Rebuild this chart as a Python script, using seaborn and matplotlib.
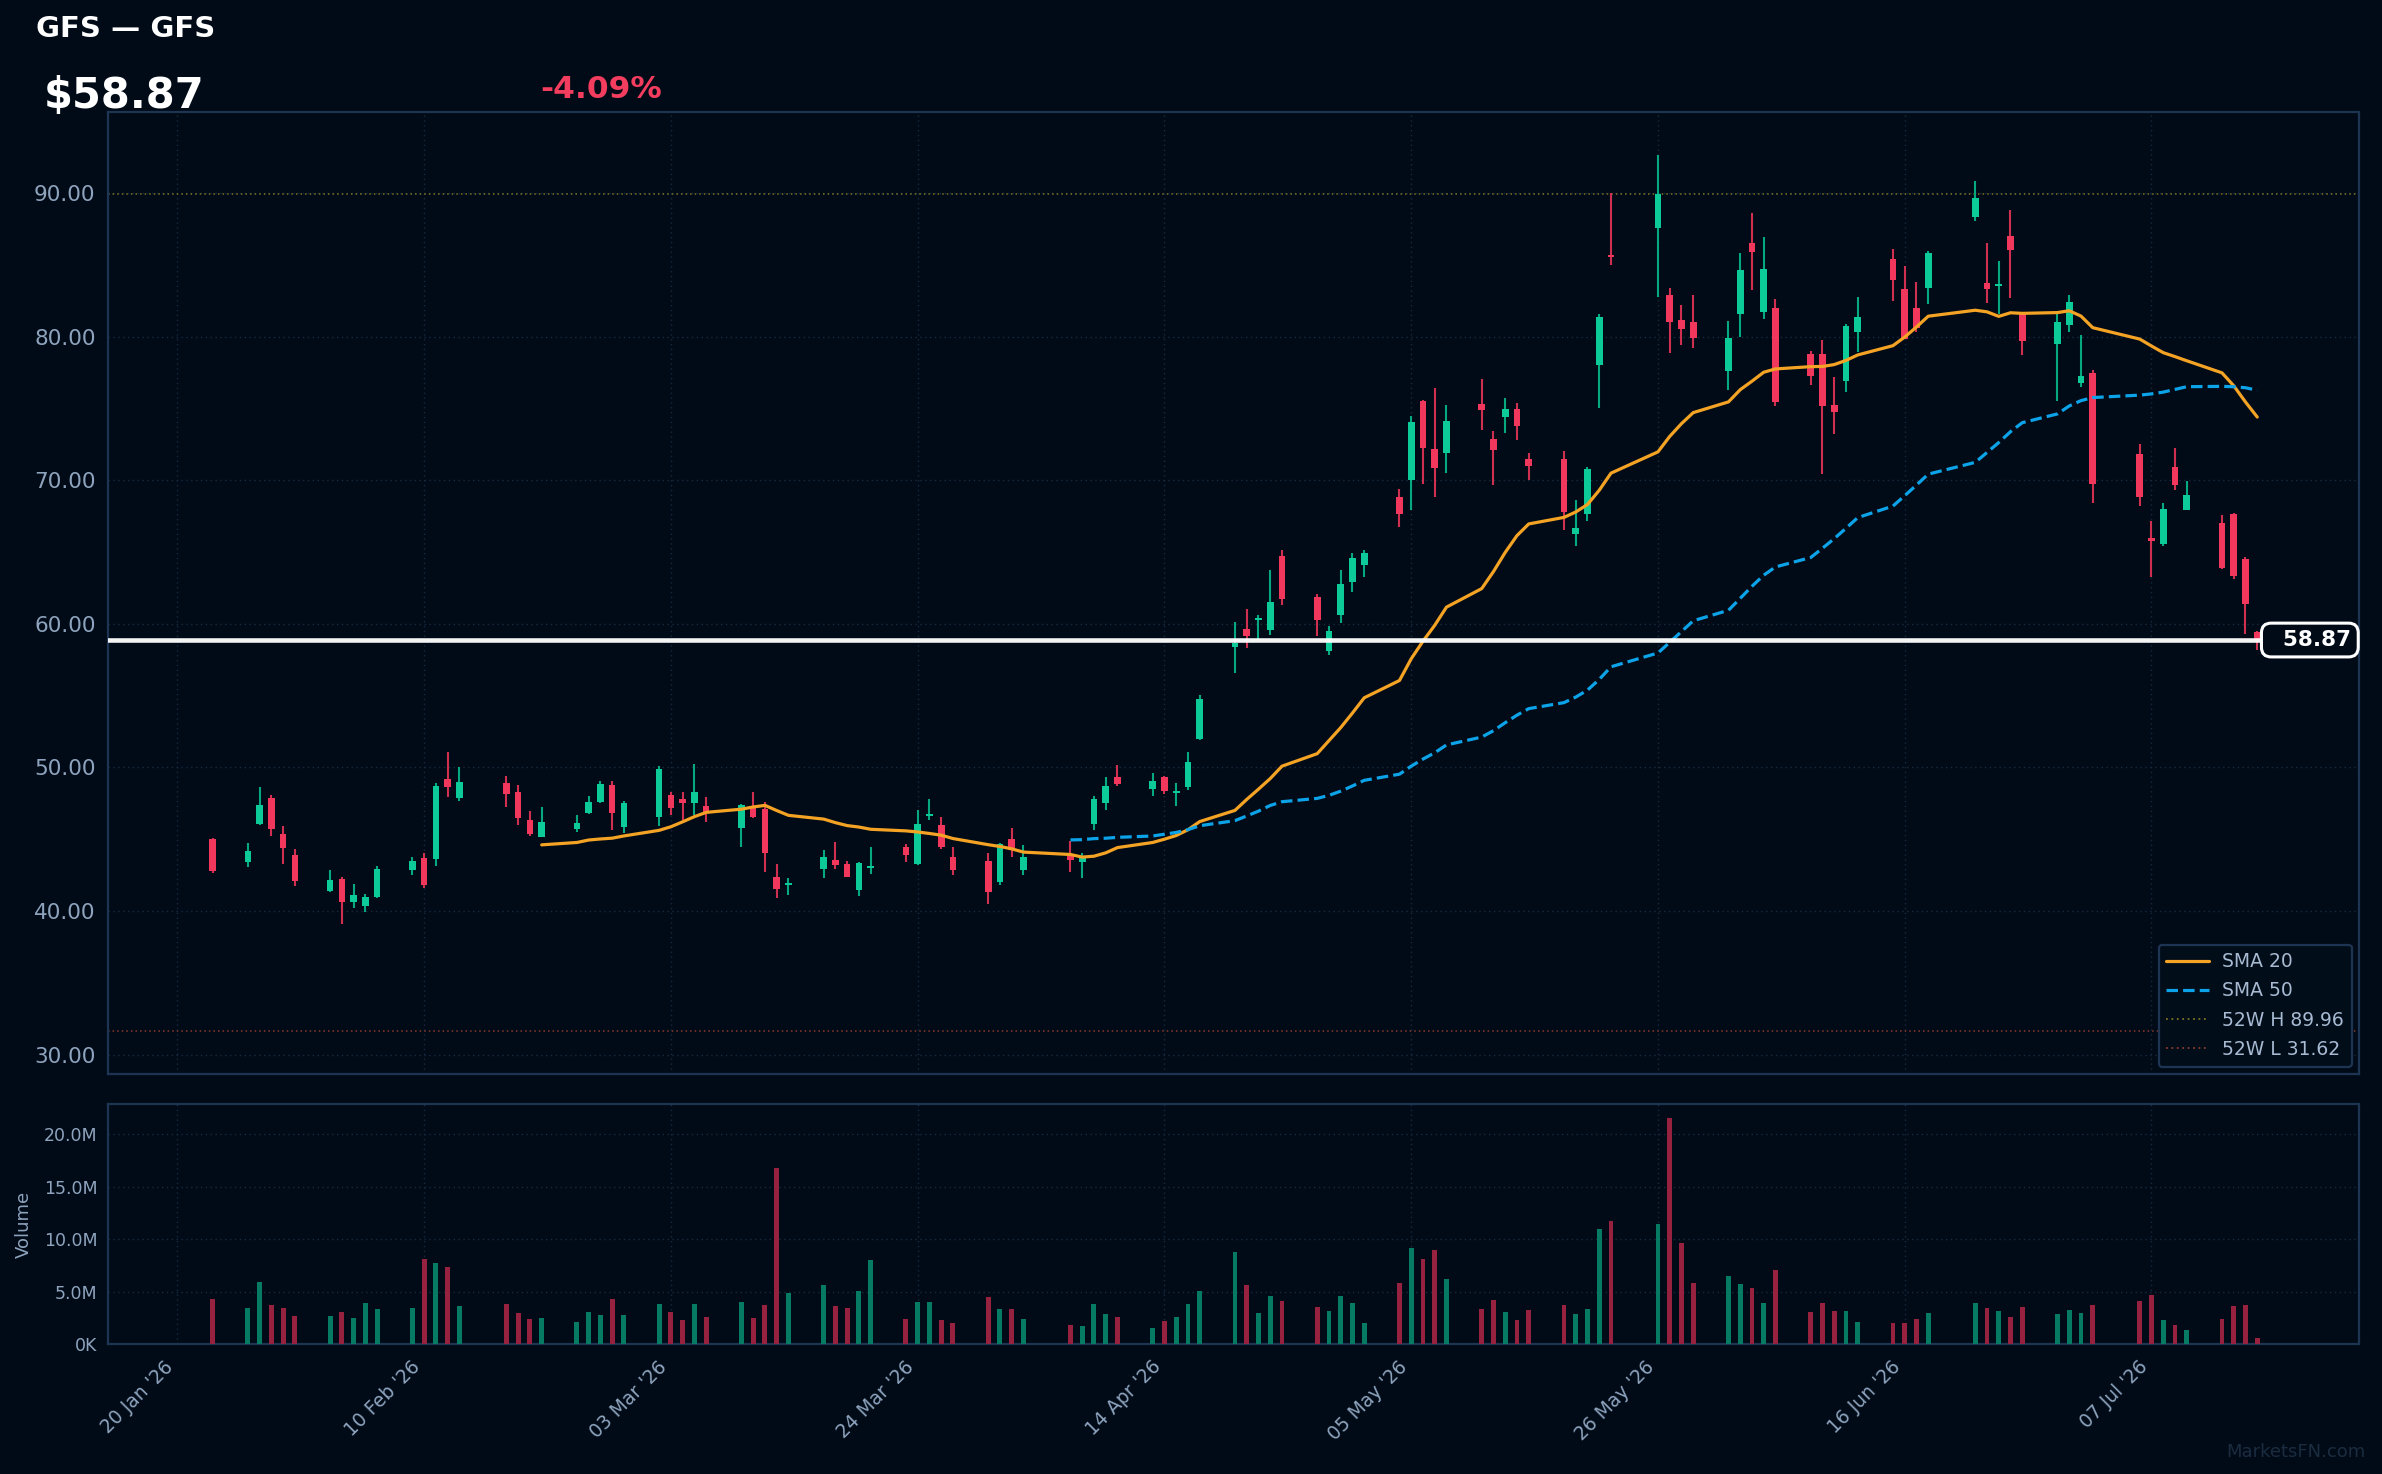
import numpy as np
import pandas as pd
import matplotlib
matplotlib.use("Agg")
import matplotlib.pyplot as plt
import matplotlib.dates as mdates
import matplotlib.transforms as mtrans
from matplotlib.lines import Line2D
from matplotlib.ticker import FuncFormatter, FixedLocator
import seaborn as sns

# ---------------- data ----------------
dates = ["2026-01-23", "2026-01-26", "2026-01-27", "2026-01-28", "2026-01-29", "2026-01-30",
         "2026-02-02", "2026-02-03", "2026-02-04", "2026-02-05", "2026-02-06",
         "2026-02-09", "2026-02-10", "2026-02-11", "2026-02-12", "2026-02-13",
         "2026-02-17", "2026-02-18", "2026-02-19", "2026-02-20",
         "2026-02-23", "2026-02-24", "2026-02-25", "2026-02-26", "2026-02-27",
         "2026-03-02", "2026-03-03", "2026-03-04", "2026-03-05", "2026-03-06",
         "2026-03-09", "2026-03-10", "2026-03-11", "2026-03-12", "2026-03-13",
         "2026-03-16", "2026-03-17", "2026-03-18", "2026-03-19", "2026-03-20",
         "2026-03-23", "2026-03-24", "2026-03-25", "2026-03-26", "2026-03-27",
         "2026-03-30", "2026-03-31", "2026-04-01", "2026-04-02",
         "2026-04-06", "2026-04-07", "2026-04-08", "2026-04-09", "2026-04-10",
         "2026-04-13", "2026-04-14", "2026-04-15", "2026-04-16", "2026-04-17",
         "2026-04-20", "2026-04-21", "2026-04-22", "2026-04-23", "2026-04-24",
         "2026-04-27", "2026-04-28", "2026-04-29", "2026-04-30", "2026-05-01",
         "2026-05-04", "2026-05-05", "2026-05-06", "2026-05-07", "2026-05-08",
         "2026-05-11", "2026-05-12", "2026-05-13", "2026-05-14", "2026-05-15",
         "2026-05-18", "2026-05-19", "2026-05-20", "2026-05-21", "2026-05-22",
         "2026-05-26", "2026-05-27", "2026-05-28", "2026-05-29",
         "2026-06-01", "2026-06-02", "2026-06-03", "2026-06-04", "2026-06-05",
         "2026-06-08", "2026-06-09", "2026-06-10", "2026-06-11", "2026-06-12",
         "2026-06-15", "2026-06-16", "2026-06-17", "2026-06-18",
         "2026-06-22", "2026-06-23", "2026-06-24", "2026-06-25", "2026-06-26",
         "2026-06-29", "2026-06-30", "2026-07-01", "2026-07-02",
         "2026-07-06", "2026-07-07", "2026-07-08", "2026-07-09", "2026-07-10",
         "2026-07-13", "2026-07-14", "2026-07-15", "2026-07-16"]

opens = [45.01, 43.43, 46.06, 47.87, 45.36, 43.90,
         41.39, 42.23, 40.63, 40.35, 40.97,
         42.85, 43.69, 43.62, 49.19, 47.87,
         48.91, 48.29, 46.34, 45.15,
         45.71, 46.82, 47.59, 48.77, 45.85,
         46.55, 48.08, 47.80, 47.52, 47.31,
         45.78, 47.17, 47.10, 42.37, 41.80,
         42.92, 43.55, 43.27, 41.46, 43.00,
         44.46, 43.27, 46.65, 45.99, 43.76,
         43.48, 42.02, 45.01, 42.85,
         43.90, 43.41, 46.06, 47.52, 49.33,
         48.49, 49.33, 48.22, 48.63, 51.97,
         58.38, 59.64, 60.25, 59.57, 64.72,
         61.87, 58.11, 60.61, 62.91, 64.10,
         68.83, 70.01, 75.52, 72.17, 71.89,
         75.31, 72.87, 74.40, 74.96, 71.48,
         71.48, 66.25, 67.65, 78.03, 85.70,
         87.57, 82.90, 81.16, 81.02,
         77.61, 81.58, 86.52, 81.72, 81.99,
         78.79, 78.79, 75.24, 76.91, 80.32,
         85.41, 83.32, 81.99, 83.39,
         88.33, 83.74, 83.55, 87.01, 81.65,
         79.49, 80.81, 76.77, 77.47,
         71.83, 65.95, 65.56, 70.92, 67.93,
         67.02, 67.65, 64.51, 59.45]

highs = [45.08, 44.73, 48.63, 48.08, 45.92, 44.32,
         42.85, 42.37, 41.88, 41.18, 43.13,
         43.76, 44.04, 48.91, 51.07, 50.03,
         49.40, 48.77, 46.96, 47.24,
         46.68, 48.01, 49.05, 49.05, 47.66,
         50.10, 48.29, 48.29, 50.24, 47.94,
         47.45, 48.29, 47.59, 43.27, 42.30,
         44.25, 44.80, 43.48, 43.41, 44.46,
         44.66, 47.03, 47.80, 46.54, 44.45,
         44.04, 44.73, 45.78, 44.59,
         44.87, 44.04, 48.01, 49.33, 50.16,
         49.61, 49.40, 48.91, 51.07, 55.04,
         60.12, 61.03, 60.61, 63.74, 65.14,
         62.08, 59.85, 63.75, 64.93, 65.14,
         69.39, 74.47, 75.59, 76.42, 75.24,
         77.05, 73.43, 75.72, 75.38, 71.89,
         72.03, 68.62, 70.92, 81.60, 90.00,
         92.65, 83.39, 82.20, 82.90,
         81.09, 85.82, 88.61, 86.94, 82.62,
         79.00, 79.77, 77.19, 80.88, 82.76,
         86.10, 84.92, 83.81, 85.96,
         90.84, 86.52, 85.27, 88.82, 81.65,
         81.65, 82.90, 80.11, 77.68,
         72.52, 67.16, 68.41, 72.24, 69.95,
         67.58, 67.72, 64.65, 59.50]

lows = [42.67, 43.09, 45.99, 45.22, 43.27, 41.74,
        41.32, 39.09, 40.21, 39.93, 40.90,
        42.51, 41.60, 43.13, 47.94, 47.66,
        47.24, 45.99, 45.22, 45.15,
        45.50, 46.75, 47.52, 45.64, 45.43,
        45.92, 46.68, 46.34, 46.68, 46.20,
        44.46, 46.48, 42.72, 40.90, 41.11,
        42.30, 42.92, 42.37, 41.04, 42.58,
        43.41, 43.20, 46.34, 44.31, 42.50,
        40.48, 41.81, 43.76, 42.50,
        42.71, 42.30, 45.64, 47.03, 48.70,
        48.01, 48.14, 47.31, 48.42, 51.91,
        56.57, 58.31, 58.87, 59.22, 61.31,
        59.15, 57.83, 60.06, 62.21, 63.26,
        66.74, 67.93, 69.74, 68.83, 70.50,
        73.50, 69.67, 73.29, 72.80, 70.01,
        66.53, 65.42, 67.16, 75.03, 84.99,
        82.78, 78.86, 79.42, 79.21,
        76.28, 79.97, 83.25, 81.23, 75.17,
        76.63, 70.43, 73.22, 76.14, 78.93,
        82.48, 79.84, 80.32, 82.27,
        88.05, 82.34, 81.58, 82.69, 78.72,
        75.52, 80.32, 76.49, 68.41,
        68.21, 63.26, 65.42, 69.32, 67.93,
        63.82, 63.12, 59.29, 58.20]

closes = [42.81, 44.18, 47.38, 45.71, 44.39, 42.09,
          42.16, 40.63, 41.11, 40.97, 42.92,
          43.48, 41.81, 48.70, 48.63, 48.98,
          48.15, 46.48, 45.36, 46.20,
          46.13, 47.59, 48.84, 46.82, 47.52,
          49.89, 47.17, 47.52, 48.29, 46.89,
          47.38, 46.55, 44.04, 41.53, 41.90,
          43.76, 43.20, 42.37, 43.34, 43.10,
          43.90, 46.06, 46.75, 44.45, 42.85,
          41.32, 44.66, 44.24, 43.76,
          43.55, 43.76, 47.80, 48.70, 48.84,
          49.05, 48.35, 48.30, 50.37, 54.76,
          58.66, 59.15, 60.35, 61.52, 61.73,
          60.27, 59.50, 62.77, 64.58, 64.93,
          67.65, 74.05, 72.24, 70.85, 74.12,
          74.89, 72.10, 74.96, 73.77, 70.99,
          67.79, 66.67, 70.78, 81.34, 85.55,
          89.96, 81.02, 80.53, 79.91,
          79.91, 84.64, 85.89, 84.71, 75.45,
          77.26, 75.17, 74.75, 80.74, 81.37,
          83.94, 79.84, 80.60, 85.82,
          89.65, 83.32, 83.65, 86.03, 79.70,
          81.02, 82.41, 77.26, 69.74,
          68.83, 65.80, 68.00, 69.67, 68.97,
          63.89, 63.33, 61.38, 58.87]

volumes_m = [4.31, 3.46, 5.91, 3.74, 3.46, 2.70,
             2.70, 3.08, 2.52, 3.93, 3.36,
             3.46, 8.08, 7.70, 7.33, 3.65,
             3.84, 2.99, 2.42, 2.52,
             2.14, 3.08, 2.80, 4.31, 2.80,
             3.84, 3.08, 2.33, 3.84, 2.61,
             4.03, 2.52, 3.74, 16.76, 4.87,
             5.63, 3.65, 3.46, 5.06, 7.99,
             2.42, 4.03, 4.03, 2.33, 2.04,
             4.50, 3.36, 3.36, 2.42,
             1.86, 1.67, 3.84, 2.89, 2.61,
             1.57, 2.23, 2.61, 3.84, 5.06,
             8.74, 5.63, 2.99, 4.59, 4.12,
             3.55, 3.18, 4.59, 3.93, 2.04,
             5.82, 9.12, 8.08, 8.93, 6.19,
             3.36, 4.21, 3.08, 2.33, 3.27,
             3.74, 2.89, 3.36, 11.01, 11.76,
             11.48, 21.57, 9.59, 5.82,
             6.48, 5.72, 5.35, 3.93, 7.04,
             3.08, 3.93, 3.18, 3.18, 2.14,
             2.04, 2.04, 2.42, 2.99,
             3.93, 3.46, 3.18, 2.61, 3.55,
             2.89, 3.27, 2.99, 3.74,
             4.12, 4.69, 2.33, 1.86, 1.38,
             2.42, 3.65, 3.74, 0.53]

ticker_title = "GFS — GFS"
last_price = 58.87
change_pct = -4.09
high_52w = 89.96
low_52w = 31.62
price_ticks = [30, 40, 50, 60, 70, 80, 90]
volume_ticks_m = [0, 5, 10, 15, 20]
x_tick_dates = ["2026-01-20", "2026-02-10", "2026-03-03", "2026-03-24", "2026-04-14",
                "2026-05-05", "2026-05-26", "2026-06-16", "2026-07-07"]

# ---------------- style ----------------
BG = "#010b17"
SPINE = "#1d3552"
GRID = "#172a3f"
TXT = "#8ea4be"
UP = "#0ccb98"
DOWN = "#f2375d"
UP_W = "#06a880"
DOWN_W = "#d0304f"
UP_V = "#077a63"
DOWN_V = "#97223f"
ORANGE = "#f4a324"
BLUE = "#0ca3e9"

sns.set_theme(style="dark", rc={"axes.facecolor": BG, "figure.facecolor": BG,
                                "axes.edgecolor": SPINE, "text.color": "white",
                                "xtick.color": TXT, "ytick.color": TXT,
                                "axes.labelcolor": TXT})
plt.rcParams["font.family"] = ["DejaVu Sans"]

df = pd.DataFrame({"date": pd.to_datetime(dates), "open": opens, "high": highs,
                   "low": lows, "close": closes, "volume": np.array(volumes_m) * 1e6})
df["sma20"] = df["close"].rolling(20).mean()
df["sma50"] = df["close"].rolling(50).mean()
df["up"] = df["close"] >= df["open"]
xnum = mdates.date2num(df["date"])

W, H = 2382, 1474
fig = plt.figure(figsize=(W / 100, H / 100), dpi=100)
ax = fig.add_axes([108 / W, 1 - 1074 / H, (2359 - 108) / W, (1074 - 112) / H])
axv = fig.add_axes([108 / W, 1 - 1344 / H, (2359 - 108) / W, (1344 - 1104) / H], sharex=ax)

for a in (ax, axv):
    a.set_facecolor(BG)
    for s in a.spines.values():
        s.set_color(SPINE)
        s.set_linewidth(1.6)
    a.grid(True, linestyle=(0, (1, 2.5)), color=GRID, linewidth=1.0)
    a.set_axisbelow(True)

# candles
wick_cols = [UP_W if u else DOWN_W for u in df["up"]]
body_cols = [UP if u else DOWN for u in df["up"]]
ax.vlines(xnum, df["low"], df["high"], colors=wick_cols, linewidth=1.5, zorder=2)
body_bottom = np.minimum(df["open"], df["close"])
body_h = np.maximum(np.abs(df["close"] - df["open"]), 0.12)
ax.bar(xnum, body_h, bottom=body_bottom, width=0.56, color=body_cols,
       linewidth=0, zorder=3)

# moving averages (seaborn)
sns.lineplot(data=df, x="date", y="sma20", ax=ax, color=ORANGE, linewidth=2.3,
             zorder=4, label="SMA 20")
sns.lineplot(data=df, x="date", y="sma50", ax=ax, color=BLUE, linewidth=2.3,
             zorder=4, label="SMA 50")
ax.lines[-1].set_dashes([3.6, 1.6])

# 52w lines
ax.axhline(high_52w, color="#7c7322", linestyle=(0, (1, 2)), linewidth=1.1, zorder=1)
ax.axhline(low_52w, color="#8a3a2c", linestyle=(0, (1, 2)), linewidth=1.1, zorder=1)

# last price line and tag
ax.axhline(last_price, color="white", linewidth=3.3, alpha=0.96, zorder=5)
trans = mtrans.blended_transform_factory(ax.transAxes, ax.transData)
ax.text(0.9966, last_price, "  " + f"{last_price:.2f}", transform=trans, ha="right",
        va="center", fontsize=15.5, fontweight="bold", color="white", zorder=7,
        bbox=dict(boxstyle="round,pad=0.32,rounding_size=0.45", fc=BG, ec="white",
                  lw=2.2), clip_on=False)

# legend
handles = [Line2D([], [], color=ORANGE, lw=2.3),
           Line2D([], [], color=BLUE, lw=2.3, dashes=[3.6, 1.6]),
           Line2D([], [], color="#7c7322", lw=1.3, linestyle=(0, (1, 2))),
           Line2D([], [], color="#8a3a2c", lw=1.3, linestyle=(0, (1, 2)))]
labels = ["SMA 20", "SMA 50", f"52W H {high_52w:.2f}", f"52W L {low_52w:.2f}"]
leg = ax.legend(handles, labels, loc="lower right", fontsize=13.5, handlelength=2.3,
                handletextpad=0.7, facecolor="#020d1a", edgecolor=SPINE, framealpha=1.0,
                borderaxespad=0.4, labelspacing=0.55, fancybox=True)
for t in leg.get_texts():
    t.set_color("#a7bad2")
leg.get_frame().set_linewidth(1.6)

# axes ranges / ticks
x0 = mdates.date2num(pd.Timestamp("2026-01-20"))
ax.set_xlim(x0 - 5.91, x0 + 185.66)
ax.set_ylim(28.65, 95.64)
ax.yaxis.set_major_locator(FixedLocator(price_ticks))
ax.yaxis.set_major_formatter(FuncFormatter(lambda v, p: f"{v:.2f}"))
ax.tick_params(axis="y", labelsize=15.5, length=4, color=TXT, labelcolor=TXT, pad=5)
ax.tick_params(axis="x", labelbottom=False, length=0)
ax.set_xlabel("")
ax.set_ylabel("")

vol_cols = [UP_V if u else DOWN_V for u in df["up"]]
axv.bar(xnum, df["volume"], width=0.42, color=vol_cols, linewidth=0, zorder=3)
axv.set_ylim(0, 22.9e6)
axv.yaxis.set_major_locator(FixedLocator([v * 1e6 for v in volume_ticks_m]))
axv.yaxis.set_major_formatter(FuncFormatter(lambda v, p: "0K" if v == 0 else f"{v / 1e6:.1f}M"))
axv.xaxis.set_major_locator(FixedLocator(mdates.date2num(pd.to_datetime(x_tick_dates))))
axv.xaxis.set_major_formatter(mdates.DateFormatter("%d %b '%y"))
axv.tick_params(axis="y", labelsize=12.5, length=4, color=TXT, labelcolor=TXT)
axv.tick_params(axis="x", labelsize=13.5, length=6, color=TXT, labelcolor=TXT)
plt.setp(axv.get_xticklabels(), rotation=45, ha="right")
axv.set_ylabel("Volume", fontsize=13, color=TXT, labelpad=8)
axv.set_xlabel("")

# header
fig.text(36 / W, 1 - 37 / H, ticker_title, fontsize=21, fontweight="bold",
         color="white", va="baseline", ha="left")
fig.text(44 / W, 1 - 108 / H, f"${last_price:.2f}", fontsize=30, fontweight="bold",
         color="white", va="baseline", ha="left")
fig.text(540 / W, 1 - 98 / H, f"{change_pct:.2f}%", fontsize=22.5, fontweight="bold",
         color="#f23d5e", va="baseline", ha="left")
fig.text(2365 / W, 1 - 1457 / H, "MarketsFN.com", fontsize=13, color="#1b2c40",
         ha="right", va="baseline")

fig.savefig("out.png", dpi=100, facecolor=BG)
